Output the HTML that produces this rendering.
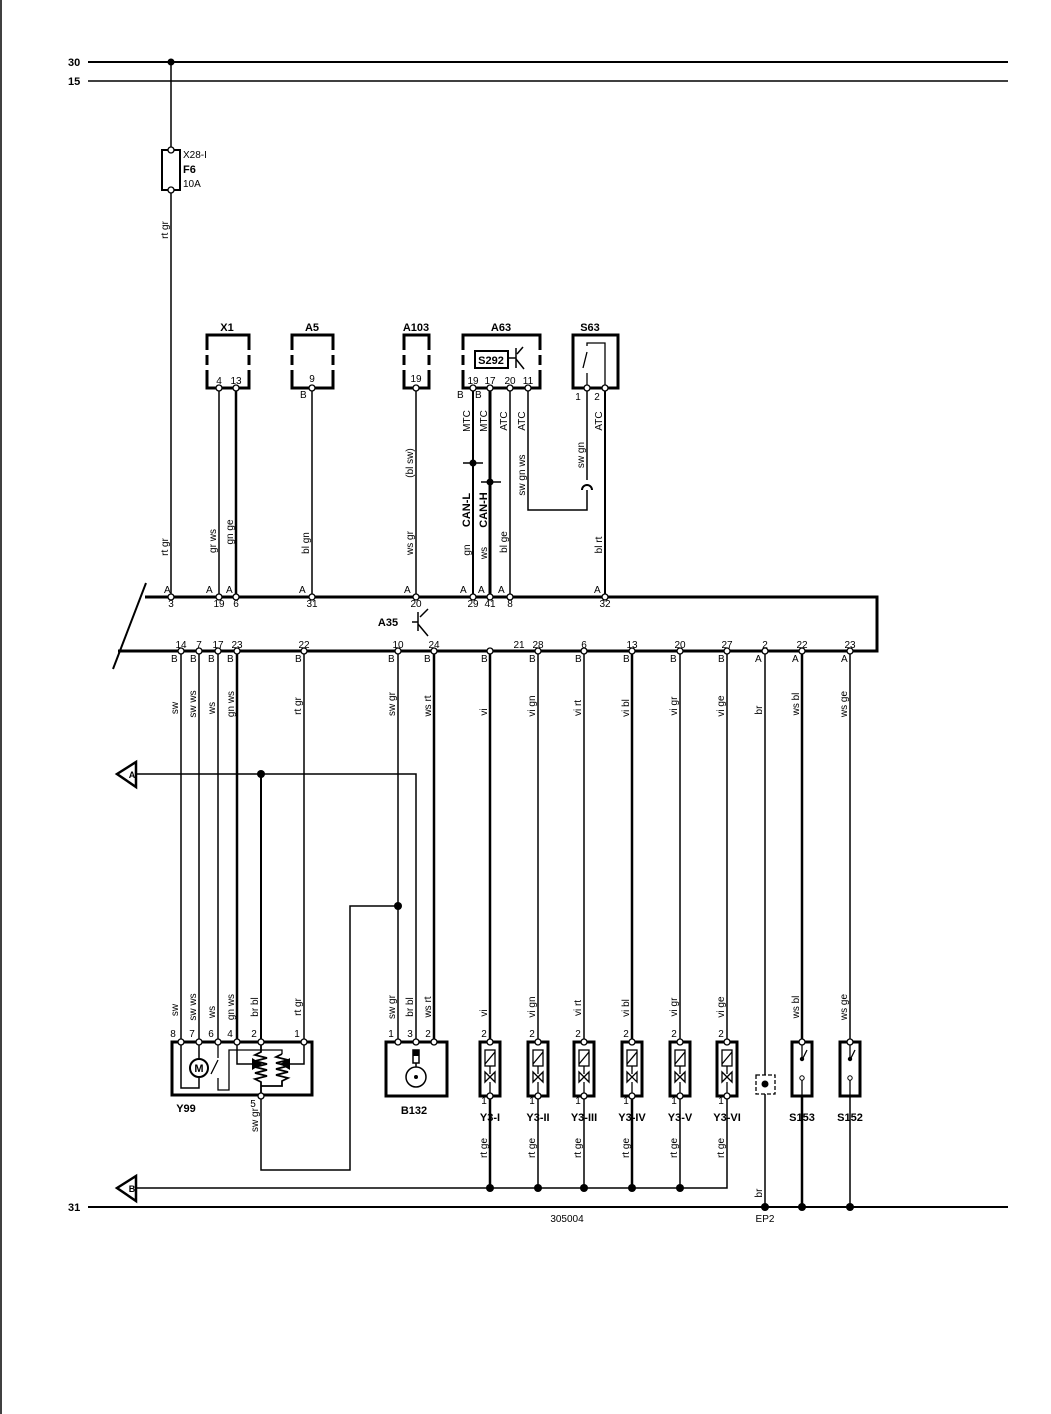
<!DOCTYPE html>
<html><head><meta charset="utf-8"><style>
html,body{margin:0;padding:0;background:#fff}
svg{display:block}
text{font-family:"Liberation Sans",sans-serif;fill:#000}
.s{font-size:10px}
.b{font-size:11px;font-weight:bold}
</style></head><body>
<svg width="1051" height="1414" viewBox="0 0 1051 1414" xmlns="http://www.w3.org/2000/svg">
<defs>
<g id="v"><rect x="-10" y="1042" width="20" height="54" stroke="#000" stroke-width="3" fill="#fff"/>
<rect x="-5" y="1050" width="10" height="16" stroke="#000" stroke-width="1.3" fill="none"/><line x1="-5" y1="1064" x2="5" y2="1052" stroke="#000" stroke-width="1.3"/>
<path d="M0 1066 V1074 M-5 1072 L5 1082 V1072 L-5 1082 Z" stroke="#000" stroke-width="1.3" fill="none"/><line x1="0" y1="1082" x2="0" y2="1096" stroke="#000" stroke-width="1.3"/></g>
<g id="sw"><rect x="-10" y="1042" width="20" height="54" stroke="#000" stroke-width="3" fill="#fff"/>
<path d="M0 1042 V1058 M0 1060 L5 1050 M0 1076 V1096" stroke="#000" stroke-width="1.3" fill="none"/>
<circle cx="0" cy="1059" r="2.2" fill="#000"/><circle cx="0" cy="1078" r="2.2" fill="#fff" stroke="#000" stroke-width="1"/></g>
</defs>
<line x1="1" y1="0" x2="1" y2="1414" stroke="#000" stroke-width="1.5"/>
<g stroke="#000" fill="none">
<line x1="88" y1="62" x2="1008" y2="62" stroke-width="2"/>
<line x1="88" y1="81" x2="1008" y2="81" stroke-width="1.5"/>
<line x1="88" y1="1207" x2="1008" y2="1207" stroke-width="2"/>
<line x1="171" y1="62" x2="171" y2="597" stroke-width="1.5"/>
<rect x="162" y="150" width="18" height="40" fill="#fff" stroke-width="2"/>
<path d="M145 597 H877 V651 H118" stroke-width="3"/>
<line x1="146" y1="583" x2="113" y2="669" stroke-width="2"/>
<line x1="418" y1="612" x2="418" y2="631" stroke-width="1.5"/>
<line x1="412" y1="622" x2="418" y2="622" stroke-width="1.5"/>
<line x1="418" y1="624" x2="428" y2="636" stroke-width="1.5"/>
<line x1="428" y1="609" x2="420" y2="617" stroke-width="1.5"/>
<path d="M207 350 V335 H249 V350 M207 355 V365 M207 370 V388 H249 V370 M249 355 V365" stroke-width="3"/>
<path d="M292 350 V335 H333 V350 M292 355 V365 M292 370 V388 H333 V370 M333 355 V365" stroke-width="3"/>
<path d="M404 350 V335 H429 V350 M404 355 V365 M404 370 V388 H429 V370 M429 355 V365" stroke-width="3"/>
<path d="M463 350 V335 H540 V350 M463 355 V365 M463 370 V388 H540 V370 M540 355 V365" stroke-width="3"/>
<rect x="475" y="351" width="33" height="17" stroke-width="2"/>
<line x1="516" y1="348" x2="516" y2="368" stroke-width="1.5"/>
<line x1="516" y1="358" x2="508" y2="358" stroke-width="1.5"/>
<line x1="516" y1="359" x2="524" y2="369" stroke-width="1.5"/>
<line x1="523" y1="347" x2="517" y2="354" stroke-width="1.5"/>
<rect x="573" y="335" width="45" height="53" stroke-width="3"/>
<path d="M605 388 V343 H587 V346 M587 352 L583 368 M587 373 V388" stroke-width="1.3"/>
<line x1="219" y1="388" x2="219" y2="597" stroke-width="1.5"/>
<line x1="236" y1="388" x2="236" y2="597" stroke-width="2.5"/>
<line x1="312" y1="388" x2="312" y2="597" stroke-width="1.5"/>
<line x1="416" y1="388" x2="416" y2="597" stroke-width="1.5"/>
<line x1="473" y1="388" x2="473" y2="597" stroke-width="2"/>
<line x1="490" y1="388" x2="490" y2="597" stroke-width="3"/>
<line x1="510" y1="388" x2="510" y2="597" stroke-width="1.5"/>
<path d="M528 388 V510 H587 V490 M587 480 V388" stroke-width="1.5"/>
<path d="M582 490 A5 5 0 0 1 592 490" stroke-width="2"/>
<line x1="605" y1="388" x2="605" y2="597" stroke-width="2"/>
<line x1="463" y1="463" x2="483" y2="463" stroke-width="1.5"/>
<line x1="481" y1="482" x2="501" y2="482" stroke-width="1.5"/>
<line x1="181" y1="651" x2="181" y2="1042" stroke-width="1.5"/>
<line x1="199" y1="651" x2="199" y2="1042" stroke-width="1.5"/>
<line x1="218" y1="651" x2="218" y2="1042" stroke-width="1.5"/>
<line x1="237" y1="651" x2="237" y2="1042" stroke-width="2.5"/>
<line x1="304" y1="651" x2="304" y2="1042" stroke-width="1.5"/>
<line x1="398" y1="651" x2="398" y2="1042" stroke-width="1.5"/>
<line x1="434" y1="651" x2="434" y2="1042" stroke-width="2.5"/>
<path d="M136 774 H416 V1042" stroke-width="1.5"/>
<line x1="261" y1="774" x2="261" y2="1042" stroke-width="2"/>
<path d="M398 906 H350 V1170 H261 V1097" stroke-width="1.5"/>
<line x1="490" y1="651" x2="490" y2="1188" stroke-width="2.5"/>
<line x1="538" y1="651" x2="538" y2="1188" stroke-width="1.5"/>
<line x1="584" y1="651" x2="584" y2="1188" stroke-width="1.5"/>
<line x1="632" y1="651" x2="632" y2="1188" stroke-width="2.5"/>
<line x1="680" y1="651" x2="680" y2="1188" stroke-width="1.5"/>
<path d="M727 651 V1188 H136" stroke-width="1.5"/>
<line x1="765" y1="651" x2="765" y2="1207" stroke-width="1.5"/>
<line x1="802" y1="651" x2="802" y2="1207" stroke-width="2.5"/>
<line x1="850" y1="651" x2="850" y2="1207" stroke-width="1.5"/>
<polygon points="117,774 136,762 136,787" fill="#fff" stroke-width="2.5"/>
<polygon points="117,1188 136,1176 136,1201" fill="#fff" stroke-width="2.5"/>
<rect x="172" y="1042" width="140" height="53" fill="#fff" stroke-width="3"/>
<path d="M181 1042 V1088 H199 V1078 M199 1042 V1059" stroke-width="1.5"/>
<circle cx="199" cy="1068" r="9" fill="#fff" stroke-width="2"/>
<path d="M218 1042 V1058 M218 1060 L211 1074 M218 1078 V1090 H229 V1050 H282 V1054" stroke-width="1.3"/>
<path d="M237 1042 V1064 H252" stroke-width="1.5"/>
<path d="M304 1042 V1064 H290" stroke-width="1.5"/>
<path d="M261 1042 V1052 L255 1055 L267 1058 L255 1061 L267 1064 L255 1067 L267 1070 L255 1073 L267 1076 L255 1079 L261 1082 V1097" stroke-width="1.8"/>
<path d="M282 1054 L276 1057 L288 1060 L276 1063 L288 1066 L276 1069 L288 1072 L276 1075 L288 1078 L282 1081 V1086 H261" stroke-width="1.8"/>
<rect x="386" y="1042" width="61" height="54" fill="#fff" stroke-width="3"/>
<circle cx="416" cy="1077" r="10" stroke-width="1.5"/>
<rect x="413" y="1050" width="6" height="13" fill="#fff" stroke-width="1.5"/>
<line x1="416" y1="1063" x2="416" y2="1067" stroke-width="1.5"/>
<rect x="756" y="1075" width="19" height="19" fill="#fff" stroke-width="1.3" stroke-dasharray="4,2"/>
</g>
<g fill="#000">
<rect x="413" y="1050" width="6" height="6"/>
<circle cx="416" cy="1077" r="2"/>
<circle cx="171" cy="62" r="3.5"/>
<circle cx="473" cy="463" r="3.5"/><circle cx="490" cy="482" r="3.5"/>
<circle cx="261" cy="774" r="4"/><circle cx="398" cy="906" r="4"/>
<circle cx="490" cy="1188" r="4"/><circle cx="538" cy="1188" r="4"/><circle cx="584" cy="1188" r="4"/><circle cx="632" cy="1188" r="4"/><circle cx="680" cy="1188" r="4"/>
<circle cx="765" cy="1207" r="4"/><circle cx="802" cy="1207" r="4"/><circle cx="850" cy="1207" r="4"/>
<circle cx="765" cy="1084" r="3.5"/>
<polygon points="252,1058 262,1064 252,1070"/><polygon points="290,1058 280,1064 290,1070"/>
</g>
<text class="b" x="199" y="1072" text-anchor="middle" font-size="10">M</text>
<use href="#v" x="490" y="0"/>
<use href="#v" x="538" y="0"/>
<use href="#v" x="584" y="0"/>
<use href="#v" x="632" y="0"/>
<use href="#v" x="680" y="0"/>
<use href="#v" x="727" y="0"/>
<use href="#sw" x="802" y="0"/>
<use href="#sw" x="850" y="0"/>
<g fill="#fff" stroke="#000" stroke-width="1.3">
<circle cx="171" cy="597" r="3"/><circle cx="219" cy="597" r="3"/><circle cx="236" cy="597" r="3"/><circle cx="312" cy="597" r="3"/><circle cx="416" cy="597" r="3"/><circle cx="473" cy="597" r="3"/><circle cx="490" cy="597" r="3"/><circle cx="510" cy="597" r="3"/><circle cx="605" cy="597" r="3"/>
<circle cx="181" cy="651" r="3"/><circle cx="199" cy="651" r="3"/><circle cx="218" cy="651" r="3"/><circle cx="237" cy="651" r="3"/><circle cx="304" cy="651" r="3"/><circle cx="398" cy="651" r="3"/><circle cx="434" cy="651" r="3"/><circle cx="490" cy="651" r="3"/><circle cx="538" cy="651" r="3"/><circle cx="584" cy="651" r="3"/><circle cx="632" cy="651" r="3"/><circle cx="680" cy="651" r="3"/><circle cx="727" cy="651" r="3"/><circle cx="765" cy="651" r="3"/><circle cx="802" cy="651" r="3"/><circle cx="850" cy="651" r="3"/>
<circle cx="219" cy="388" r="3"/><circle cx="236" cy="388" r="3"/><circle cx="312" cy="388" r="3"/><circle cx="416" cy="388" r="3"/><circle cx="473" cy="388" r="3"/><circle cx="490" cy="388" r="3"/><circle cx="510" cy="388" r="3"/><circle cx="528" cy="388" r="3"/><circle cx="587" cy="388" r="3"/><circle cx="605" cy="388" r="3"/>
<circle cx="181" cy="1042" r="3"/><circle cx="199" cy="1042" r="3"/><circle cx="218" cy="1042" r="3"/><circle cx="237" cy="1042" r="3"/><circle cx="261" cy="1042" r="3"/><circle cx="304" cy="1042" r="3"/><circle cx="261" cy="1096" r="3"/>
<circle cx="398" cy="1042" r="3"/><circle cx="416" cy="1042" r="3"/><circle cx="434" cy="1042" r="3"/>
<circle cx="490" cy="1042" r="3"/><circle cx="538" cy="1042" r="3"/><circle cx="584" cy="1042" r="3"/><circle cx="632" cy="1042" r="3"/><circle cx="680" cy="1042" r="3"/><circle cx="727" cy="1042" r="3"/><circle cx="802" cy="1042" r="3"/><circle cx="850" cy="1042" r="3"/>
<circle cx="490" cy="1096" r="3"/><circle cx="538" cy="1096" r="3"/><circle cx="584" cy="1096" r="3"/><circle cx="632" cy="1096" r="3"/><circle cx="680" cy="1096" r="3"/><circle cx="727" cy="1096" r="3"/>
<circle cx="171" cy="150" r="3"/><circle cx="171" cy="190" r="3"/>
</g>
<text class="b" x="68" y="66">30</text><text class="b" x="68" y="85">15</text><text class="b" x="68" y="1211">31</text>
<text class="s" x="183" y="158">X28-I</text><text class="b" x="183" y="173">F6</text><text class="s" x="183" y="187">10A</text>
<g class="b" text-anchor="middle">
<text x="227" y="331">X1</text><text x="312" y="331">A5</text><text x="416" y="331">A103</text><text x="501" y="331">A63</text><text x="590" y="331">S63</text>
<text x="388" y="626">A35</text>
<text x="186" y="1112">Y99</text><text x="414" y="1114">B132</text>
<text x="490" y="1121">Y3-I</text><text x="538" y="1121">Y3-II</text><text x="584" y="1121">Y3-III</text><text x="632" y="1121">Y3-IV</text><text x="680" y="1121">Y3-V</text><text x="727" y="1121">Y3-VI</text>
<text x="802" y="1121">S153</text><text x="850" y="1121">S152</text>
<text x="132" y="778" font-size="9">A</text><text x="132" y="1192" font-size="9">B</text>
</g>
<text class="b" x="491" y="364" text-anchor="middle" font-size="10">S292</text>
<g class="s" text-anchor="middle" font-size="9.5">
<text x="219" y="384">4</text><text x="236" y="384">13</text><text x="312" y="382">9</text><text x="416" y="382">19</text>
<text x="473" y="384">19</text><text x="490" y="384">17</text><text x="510" y="384">20</text><text x="528" y="384">11</text>
<text x="578" y="400">1</text><text x="597" y="400">2</text>
<text x="171" y="607">3</text><text x="219" y="607">19</text><text x="236" y="607">6</text><text x="312" y="607">31</text><text x="416" y="607">20</text><text x="473" y="607">29</text><text x="490" y="607">41</text><text x="510" y="607">8</text><text x="605" y="607">32</text>
<text x="181" y="648">14</text><text x="199" y="648">7</text><text x="218" y="648">17</text><text x="237" y="648">23</text><text x="304" y="648">22</text><text x="398" y="648">10</text><text x="434" y="648">24</text><text x="519" y="648">21</text><text x="538" y="648">28</text><text x="584" y="648">6</text><text x="632" y="648">13</text><text x="680" y="648">20</text><text x="727" y="648">27</text><text x="765" y="648">2</text><text x="802" y="648">22</text><text x="850" y="648">23</text>
<text x="173" y="1037">8</text><text x="192" y="1037">7</text><text x="211" y="1037">6</text><text x="230" y="1037">4</text><text x="254" y="1037">2</text><text x="297" y="1037">1</text><text x="253" y="1107">5</text>
<text x="391" y="1037">1</text><text x="410" y="1037">3</text><text x="428" y="1037">2</text>
<text x="484" y="1037">2</text><text x="532" y="1037">2</text><text x="578" y="1037">2</text><text x="626" y="1037">2</text><text x="674" y="1037">2</text><text x="721" y="1037">2</text>
<text x="484" y="1104">1</text><text x="532" y="1104">1</text><text x="578" y="1104">1</text><text x="626" y="1104">1</text><text x="674" y="1104">1</text><text x="721" y="1104">1</text>
<text x="567" y="1222">305004</text><text x="765" y="1222">EP2</text>
</g>
<g class="s" font-size="9">
<text x="164" y="593">A</text><text x="206" y="593">A</text><text x="226" y="593">A</text><text x="299" y="593">A</text><text x="404" y="593">A</text><text x="460" y="593">A</text><text x="478" y="593">A</text><text x="498" y="593">A</text><text x="594" y="593">A</text>
<text x="300" y="398">B</text><text x="457" y="398">B</text><text x="475" y="398">B</text>
<text x="171" y="662">B</text><text x="190" y="662">B</text><text x="208" y="662">B</text><text x="227" y="662">B</text><text x="295" y="662">B</text><text x="388" y="662">B</text><text x="424" y="662">B</text><text x="481" y="662">B</text><text x="529" y="662">B</text><text x="575" y="662">B</text><text x="623" y="662">B</text><text x="670" y="662">B</text><text x="718" y="662">B</text><text x="755" y="662">A</text><text x="792" y="662">A</text><text x="841" y="662">A</text>
</g>
<g class="s" text-anchor="middle">
<text transform="translate(168,230) rotate(-90)">rt gr</text>
<text transform="translate(168,547) rotate(-90)">rt gr</text>
<text transform="translate(216,541) rotate(-90)">gr ws</text>
<text transform="translate(233,532) rotate(-90)">gn ge</text>
<text transform="translate(309,543) rotate(-90)">bl gn</text>
<text transform="translate(413,463) rotate(-90)">(bl sw)</text>
<text transform="translate(413,543) rotate(-90)">ws gr</text>
<text transform="translate(470,421) rotate(-90)">MTC</text>
<text transform="translate(487,421) rotate(-90)">MTC</text>
<text transform="translate(507,421) rotate(-90)">ATC</text>
<text transform="translate(525,421) rotate(-90)">ATC</text>
<text transform="translate(602,421) rotate(-90)">ATC</text>
<text class="b" font-size="10.5" transform="translate(470,510) rotate(-90)">CAN-L</text>
<text class="b" font-size="10.5" transform="translate(487,510) rotate(-90)">CAN-H</text>
<text transform="translate(470,550) rotate(-90)">gn</text>
<text transform="translate(487,553) rotate(-90)">ws</text>
<text transform="translate(507,542) rotate(-90)">bl ge</text>
<text transform="translate(525,475) rotate(-90)">sw gn ws</text>
<text transform="translate(584,455) rotate(-90)">sw gn</text>
<text transform="translate(602,545) rotate(-90)">bl rt</text>
</g>
<g class="s" text-anchor="middle">
<text transform="translate(178,708) rotate(-90)">sw</text>
<text transform="translate(196,704) rotate(-90)">sw ws</text>
<text transform="translate(215,708) rotate(-90)">ws</text>
<text transform="translate(234,704) rotate(-90)">gn ws</text>
<text transform="translate(301,706) rotate(-90)">rt gr</text>
<text transform="translate(395,704) rotate(-90)">sw gr</text>
<text transform="translate(431,706) rotate(-90)">ws rt</text>
<text transform="translate(487,712) rotate(-90)">vi</text>
<text transform="translate(535,706) rotate(-90)">vi gn</text>
<text transform="translate(581,708) rotate(-90)">vi rt</text>
<text transform="translate(629,708) rotate(-90)">vi bl</text>
<text transform="translate(677,706) rotate(-90)">vi gr</text>
<text transform="translate(724,706) rotate(-90)">vi ge</text>
<text transform="translate(762,710) rotate(-90)">br</text>
<text transform="translate(799,704) rotate(-90)">ws bl</text>
<text transform="translate(847,704) rotate(-90)">ws ge</text>
<text transform="translate(178,1010) rotate(-90)">sw</text>
<text transform="translate(196,1007) rotate(-90)">sw ws</text>
<text transform="translate(215,1012) rotate(-90)">ws</text>
<text transform="translate(234,1007) rotate(-90)">gn ws</text>
<text transform="translate(258,1007) rotate(-90)">br bl</text>
<text transform="translate(301,1007) rotate(-90)">rt gr</text>
<text transform="translate(258,1120) rotate(-90)">sw gr</text>
<text transform="translate(395,1007) rotate(-90)">sw gr</text>
<text transform="translate(413,1007) rotate(-90)">br bl</text>
<text transform="translate(431,1007) rotate(-90)">ws rt</text>
<text transform="translate(487,1013) rotate(-90)">vi</text>
<text transform="translate(535,1007) rotate(-90)">vi gn</text>
<text transform="translate(581,1008) rotate(-90)">vi rt</text>
<text transform="translate(629,1008) rotate(-90)">vi bl</text>
<text transform="translate(677,1007) rotate(-90)">vi gr</text>
<text transform="translate(724,1007) rotate(-90)">vi ge</text>
<text transform="translate(799,1007) rotate(-90)">ws bl</text>
<text transform="translate(847,1007) rotate(-90)">ws ge</text>
<text transform="translate(487,1148) rotate(-90)">rt ge</text>
<text transform="translate(535,1148) rotate(-90)">rt ge</text>
<text transform="translate(581,1148) rotate(-90)">rt ge</text>
<text transform="translate(629,1148) rotate(-90)">rt ge</text>
<text transform="translate(677,1148) rotate(-90)">rt ge</text>
<text transform="translate(724,1148) rotate(-90)">rt ge</text>
<text transform="translate(762,1193) rotate(-90)">br</text>
</g>
</svg>
</body></html>
